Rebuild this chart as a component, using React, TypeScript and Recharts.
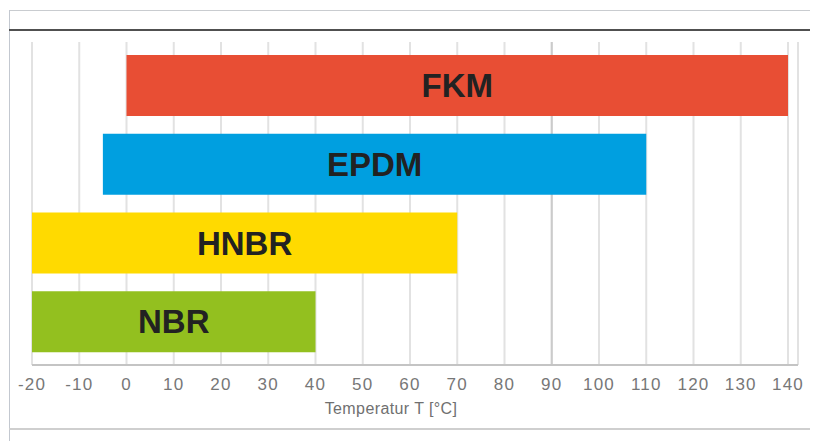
import React from 'react';
import {
  BarChart,
  Bar,
  XAxis,
  YAxis,
  CartesianGrid,
  Cell,
  LabelList,
} from 'recharts';

const materials = ['FKM', 'EPDM', 'HNBR', 'NBR'];
const minTemps = [0, -5, -20, -20];
const maxTemps = [140, 110, 70, 40];
const barColors = ['#E84E34', '#009FE0', '#FFDA00', '#93C01F'];
const xTicks = [-20, -10, 0, 10, 20, 30, 40, 50, 60, 70, 80, 90, 100, 110, 120, 130, 140];
const accentTicks = [90];
const axisTitle = 'Temperatur T [°C]';

const data = materials.map((m, i) => ({ name: m, range: [minTemps[i], maxTemps[i]] }));

const FONT = '"Liberation Sans", Arial, Helvetica, sans-serif';

const accentGenerator = (props: any): number[] => {
  try {
    const s = props && props.xAxis ? props.xAxis.scale : null;
    if (!s) return [];
    if (typeof s === 'function') return accentTicks.map((t) => s(t));
    if (typeof s.map === 'function') return accentTicks.map((t) => s.map(t));
    return [];
  } catch (e) {
    return [];
  }
};

export default function App() {
  return (
    <div style={{ position: 'relative', width: 810, height: 433, fontFamily: FONT }}>
      {/* frame decorations */}
      <div style={{ position: 'absolute', left: 1, top: 2, width: 809, height: 1, background: '#c9ccd0' }} />
      <div style={{ position: 'absolute', left: 1, top: 2, width: 1, height: 431, background: '#c3c8d0' }} />
      <div style={{ position: 'absolute', left: 1, top: 21, width: 809, height: 2, background: '#505050' }} />
      <div style={{ position: 'absolute', left: 1, top: 420, width: 809, height: 2, background: '#cfcfcf' }} />
      <div style={{ position: 'absolute', left: 0, top: 0 }}>
        <BarChart
          width={810}
          height={433}
          data={data}
          layout="vertical"
          margin={{ top: 34, right: 20, bottom: 46, left: 24 }}
          style={{ fontFamily: FONT }}
        >
          <CartesianGrid horizontal={false} vertical={true} stroke="#e2e2e2" strokeWidth={2} />
          <CartesianGrid
            horizontal={false}
            vertical={true}
            stroke="#cbcbcb"
            strokeWidth={2}
            verticalCoordinatesGenerator={accentGenerator}
          />
          <XAxis
            type="number"
            domain={[-20, 140]}
            ticks={xTicks}
            interval={0}
            allowDataOverflow
            padding={{ left: 0, right: 10 }}
            tickLine={false}
            tickSize={0}
            tickMargin={13}
            axisLine={{ stroke: '#c4c4c4', strokeWidth: 2 }}
            tick={{ fill: '#777777', fontSize: 17, letterSpacing: 1.2, fontFamily: FONT }}
            height={30}
            label={{
              value: axisTitle,
              position: 'bottom',
              offset: 8,
              dx: -24,
              fill: '#707070',
              fontSize: 16,
              letterSpacing: 0.4,
              fontFamily: FONT,
            }}
          />
          <YAxis
            type="category"
            dataKey="name"
            width={0}
            tick={false}
            tickLine={false}
            axisLine={{ stroke: '#c2c2c2', strokeWidth: 3 }}
            padding={{ top: 4, bottom: 4 }}
          />
          <Bar dataKey="range" barSize={61} isAnimationActive={false}>
            {data.map((d, i) => (
              <Cell key={d.name} fill={barColors[i]} />
            ))}
            <LabelList
              dataKey="name"
              position="center"
              fill="#222222"
              fontSize={33}
              fontWeight="bold"
              fontFamily={FONT}
            />
          </Bar>
        </BarChart>
      </div>
    </div>
  );
}
